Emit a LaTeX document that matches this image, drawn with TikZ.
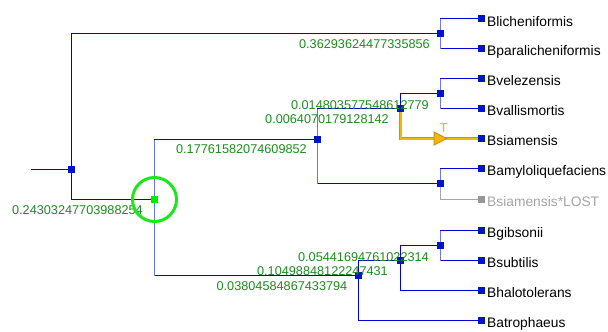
\documentclass[tikz,border=0pt]{standalone}
\usepackage{fontspec}
\setmainfont{Liberation Sans}
\usetikzlibrary{backgrounds}

\definecolor{edgeblue}{RGB}{0,0,210}
\definecolor{edgelight}{RGB}{105,120,235}
\definecolor{nodeblue}{RGB}{0,20,200}
\definecolor{lengreen}{RGB}{30,140,30}
\definecolor{lostgrey}{RGB}{165,165,165}
\definecolor{lostsq}{RGB}{150,150,150}
\definecolor{hlgold}{RGB}{238,185,0}
\definecolor{hldark}{RGB}{205,150,0}
\definecolor{tgold}{RGB}{245,180,0}
\definecolor{selgreen}{RGB}{30,230,30}
\definecolor{selfill}{RGB}{0,235,0}

\begin{document}
\begin{tikzpicture}[x=1pt,y=-1pt,
  isq/.style={rectangle, fill=nodeblue, minimum size=7pt, inner sep=0pt},
  selsq/.style={rectangle, fill=selfill, minimum size=7pt, inner sep=0pt},
  lostbox/.style={rectangle, fill=lostsq, minimum size=7pt, inner sep=0pt},
  leaftext/.style={font=\fontsize{13.8}{16}\selectfont, inner sep=0pt, anchor=base west, text=black},
  losttext/.style={leaftext, text=lostgrey},
  lenlabel/.style={font=\fontsize{12.7}{15}\selectfont, inner sep=0pt, anchor=base east, text=lengreen},
  branch/.style={draw=edgeblue, line width=1pt},
  vlight/.style={draw=edgelight, line width=1.6pt},
  lostedge/.style={draw=lostgrey, line width=1.2pt},
  hlout/.style={draw=hldark, line width=3.6pt},
  hlin/.style={draw=hlgold, line width=2pt}]

\useasboundingbox (0,0) rectangle (608,332);

% internal nodes
\coordinate (stem) at (30.5,169.5);
\node[isq] (r)  at (71.5,169.5) {};
\node[isq] (nL) at (440.5,33.5) {};
\node[selsq] (nG) at (154.5,199.5) {};
\node[isq] (nA) at (317.5,139.5) {};
\node[isq] (nB) at (400.5,108.5) {};
\node[isq] (nC) at (440.5,93.5) {};
\node[isq] (nD) at (440.5,183.5) {};
\node[isq] (nE) at (358.5,275.5) {};
\node[isq] (nF) at (400.5,260.5) {};
\node[isq] (nH) at (440.5,245.5) {};

% leaves
\node[isq] (lich)  at (481.5,18.5) {};
\node[isq] (para)  at (481.5,48.5) {};
\node[isq] (vele)  at (481.5,78.5) {};
\node[isq] (vall)  at (481.5,108.5) {};
\node[isq] (siam)  at (481.5,138.5) {};
\node[isq] (amyl)  at (481.5,168.5) {};
\node[lostbox] (lost) at (481.5,199.5) {};
\node[isq] (gibs)  at (481.5,230.5) {};
\node[isq] (subt)  at (481.5,260.5) {};
\node[isq] (halo)  at (481.5,290.5) {};
\node[isq] (atro)  at (481.5,320.5) {};

\node[leaftext] (lichT) at (487,26)    {Blicheniformis};
\node[leaftext] (paraT) at (487,55.8)  {Bparalicheniformis};
\node[leaftext] (veleT) at (487,85.8)  {Bvelezensis};
\node[leaftext] (vallT) at (487,115.8) {Bvallismortis};
\node[leaftext] (siamT) at (487,145.5) {Bsiamensis};
\node[leaftext] (amylT) at (487,175.8) {Bamyloliquefaciens};
\node[losttext] (lostT) at (487,206.5) {Bsiamensis*LOST};
\node[leaftext] (gibsT) at (487,237.5) {Bgibsonii};
\node[leaftext] (subtT) at (487,267.5) {Bsubtilis};
\node[leaftext] (haloT) at (487,297.5) {Bhalotolerans};
\node[leaftext] (atroT) at (487,327.5) {Batrophaeus};

% branch lengths
\node[lenlabel] (len1) at (430,48.3)  {0.36293624477335856};
\node[lenlabel] (len2) at (429,109.3) {0.014803577548612779};
\node[lenlabel] (len3) at (389,123.3) {0.0064070179128142};
\node[lenlabel] (len4) at (307,153)   {0.17761582074609852};
\node[lenlabel] (len5) at (143,214.3) {0.24303247703988254};
\node[lenlabel] (len6) at (429,261.7) {0.05441694761022314};
\node[lenlabel] (len7) at (388,275)   {0.10498848122247431};
\node[lenlabel] (len8) at (347.5,290) {0.03804584867433794};

% marker on the traced branch
\coordinate (arrT) at (440,138.5);
\node[text=tgold, font=\fontsize{13}{15}\selectfont, inner sep=0pt] (tlab) at (443.5,128.5) {T};

% selection ring
\draw[selgreen, line width=3pt] (nG.center) circle[radius=22pt];

\begin{scope}[on background layer]
  \fill[white] (0,0) rectangle (608,332);

  \draw[branch] (stem) -- (r.center);
  \draw[branch] (r.center) |- (nL.center);
  \draw[branch] (r.center) |- (nG.center);

  \draw[branch] (nL.center) |- (lich.center);
  \draw[branch] (nL.center) |- (para.center);
  \draw[vlight] (nL.center |- lich.center) -- (nL.center |- para.center);

  \draw[branch] (nG.center) |- (nA.center);
  \draw[branch] (nG.center) |- (nE.center);
  \draw[vlight] (nG.center |- nA.center) -- (nG.center |- nE.center);

  \draw[branch] (nA.center) |- (nB.center);
  \draw[branch] (nA.center) |- (nD.center);
  \draw[vlight] (nA.center |- nB.center) -- (nA.center |- nD.center);

  \draw[branch] (nB.center) |- (nC.center);

  \draw[branch] (nC.center) |- (vele.center);
  \draw[branch] (nC.center) |- (vall.center);
  \draw[vlight] (nC.center |- vele.center) -- (nC.center |- vall.center);

  \draw[branch] (nD.center) |- (amyl.center);
  \draw[vlight] (nD.center |- amyl.center) -- (nD.center);
  \draw[lostedge] (nD.center) |- (lost.center);

  \draw[branch] (nE.center) |- (nF.center);
  \draw[branch] (nE.center) |- (atro.center);

  \draw[branch] (nF.center) |- (nH.center);
  \draw[branch] (nF.center) |- (halo.center);

  \draw[branch] (nH.center) |- (gibs.center);
  \draw[branch] (nH.center) |- (subt.center);
  \draw[vlight] (nH.center |- gibs.center) -- (nH.center |- subt.center);

  % traced branch to Bsiamensis
  \draw[hlout] (nB.center) |- (siam.center);
  \draw[hlin] (nB.center) |- (siam.center);
  \filldraw[fill=hlgold, draw=hldark, line width=1pt, shift={(arrT)}]
    (-6,-6.5) -- (6.5,0) -- (-6,6.5) -- cycle;
\end{scope}
\end{tikzpicture}
\end{document}
